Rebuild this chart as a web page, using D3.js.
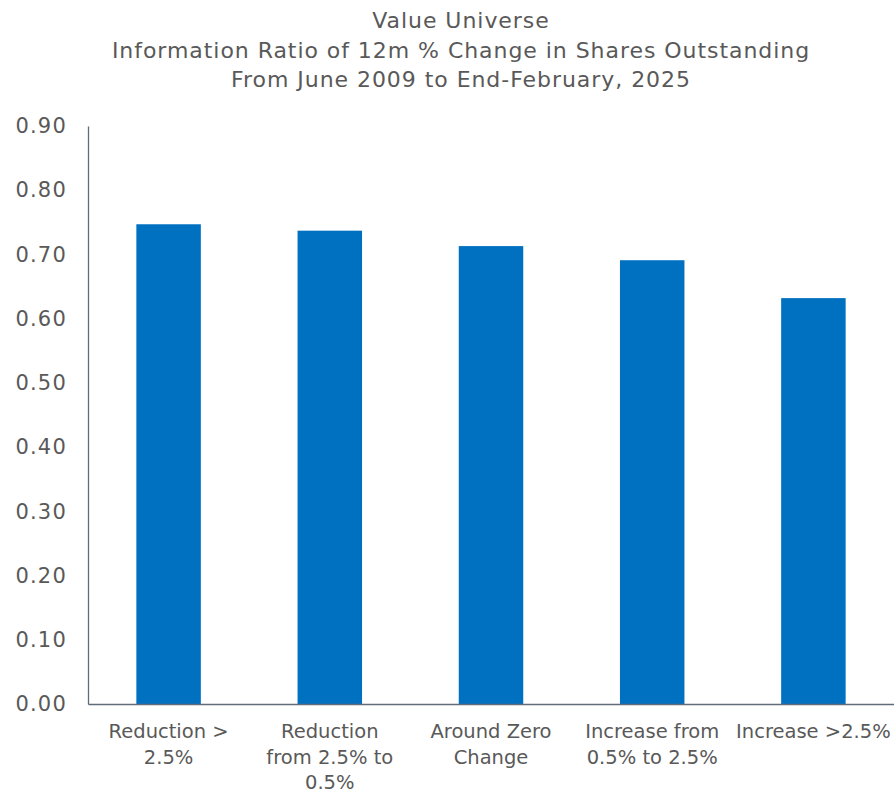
<!DOCTYPE html>
<html>
<head>
<meta charset="utf-8">
<script src="https://cdn.jsdelivr.net/npm/d3@7"></script>
<style>
  body { margin: 0; background: #fff; }
  svg text { font-family: "DejaVu Sans", sans-serif; fill: #595959; }
</style>
</head>
<body>
<div id="chart"></div>
<script>
var titleLines = [
  "Value Universe",
  "Information Ratio of 12m % Change in Shares Outstanding",
  "From June 2009 to End-February, 2025"
];

var categories = [
  ["Reduction >", "2.5%"],
  ["Reduction", "from 2.5% to", "0.5%"],
  ["Around Zero", "Change"],
  ["Increase from", "0.5% to 2.5%"],
  ["Increase >2.5%"]
];

var values = [0.747, 0.737, 0.713, 0.691, 0.632];

var yTicks = [0, 0.1, 0.2, 0.3, 0.4, 0.5, 0.6, 0.7, 0.8, 0.9];

var w = 894;
var h = 790;

var plotLeft = 88;
var plotRight = 894;
var plotTop = 126;
var plotBottom = 704;

var svg = d3
  .select("#chart")
  .append("svg")
  .attr("width", w)
  .attr("height", h);

// title
svg.append("g")
  .selectAll("text")
  .data(titleLines)
  .enter()
  .append("text")
  .attr("x", 461)
  .attr("y", function(d, i) { return 28 + i * 29.5; })
  .attr("text-anchor", "middle")
  .attr("font-size", 22)
  .attr("letter-spacing", 0.95)
  .text(function(d) { return d; });

var xScale = d3
  .scaleBand()
  .domain(d3.range(categories.length))
  .range([plotLeft, plotRight])
  .paddingInner(0.6)
  .paddingOuter(0.3);

var yScale = d3
  .scaleLinear()
  .domain([0, 0.9])
  .range([plotBottom, plotTop]);

// bars
svg.append("g")
  .selectAll("rect")
  .data(values)
  .enter()
  .append("rect")
  .attr("x", function(d, i) { return xScale(i); })
  .attr("y", function(d) { return yScale(d); })
  .attr("width", xScale.bandwidth())
  .attr("height", function(d) { return plotBottom - yScale(d); })
  .attr("fill", "#0070c0");

// y axis
var yAxis = d3.axisLeft(yScale)
  .tickValues(yTicks)
  .tickFormat(d3.format(".2f"))
  .tickSize(0)
  .tickPadding(21);

var yG = svg.append("g")
  .attr("transform", "translate(" + plotLeft + ",0)")
  .call(yAxis);
yG.select(".domain").attr("stroke", "#5f6a7a").attr("stroke-width", 1.3);
yG.selectAll("text")
  .attr("font-size", 21)
  .attr("letter-spacing", 1.2)
  .attr("fill", "#595959")
  .style("font-family", "'DejaVu Sans', sans-serif");

// x axis line
var xAxis = d3.axisBottom(xScale).tickSize(0).tickFormat("");
var xG = svg.append("g")
  .attr("transform", "translate(0," + plotBottom + ")")
  .call(xAxis);
xG.select(".domain").attr("stroke", "#5f6a7a").attr("stroke-width", 1.3);

// x labels (multi-line)
var labels = svg.append("g")
  .selectAll("text")
  .data(categories)
  .enter()
  .append("text")
  .attr("text-anchor", "middle")
  .attr("font-size", 19.5)
  .attr("x", function(d, i) { return xScale(i) + xScale.bandwidth() / 2; })
  .attr("y", 738);

labels.selectAll("tspan")
  .data(function(d) { return d; })
  .enter()
  .append("tspan")
  .attr("x", function() { return d3.select(this.parentNode).attr("x"); })
  .attr("dy", function(d, i) { return i === 0 ? 0 : 25.5; })
  .text(function(d) { return d; });
</script>
</body>
</html>
